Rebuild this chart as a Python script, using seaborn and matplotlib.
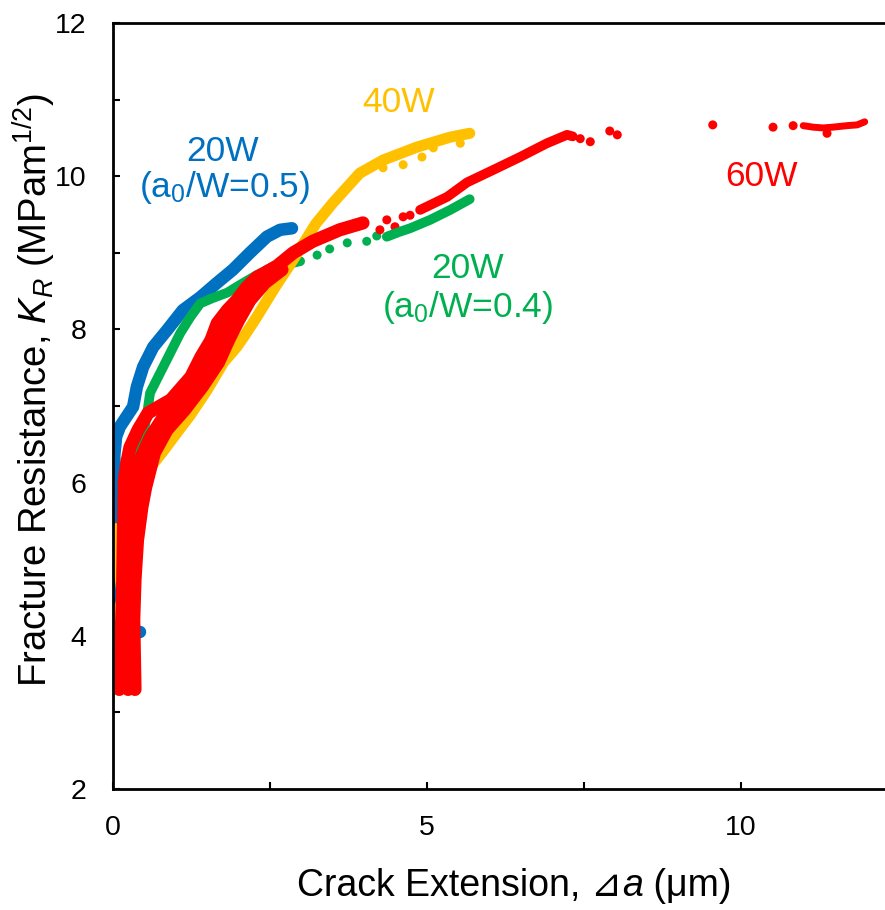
import matplotlib
matplotlib.use('Agg')
import matplotlib.pyplot as plt
import seaborn as sns
import pandas as pd
from matplotlib.ticker import MultipleLocator

# ---------------- data ----------------
# 20W (a0/W=0.5) – blue
blue_x = [0.43, 0.20, 0.04, 0.03, 0.01, 0.02, 0.01, 0.03, 0.02, 0.05, 0.11, 0.32, 0.38,
          0.48, 0.64, 0.86, 1.11, 1.39, 1.66, 1.91, 2.18, 2.45, 2.66, 2.85]
blue_y = [4.05, 4.00, 4.20, 4.60, 5.00, 5.40, 5.80, 6.10, 6.35, 6.60, 6.73, 6.99, 7.25,
          7.51, 7.77, 7.99, 8.25, 8.42, 8.61, 8.78, 9.00, 9.21, 9.30, 9.32]

# 20W (a0/W=0.4) – green
green1_x = [0.15, 0.25, 0.32, 0.45, 0.54, 0.59, 0.75, 0.91, 1.07, 1.23, 1.39, 1.59, 1.82,
            2.02, 2.29, 2.55, 2.98]
green1_y = [4.00, 5.00, 6.03, 6.50, 6.88, 7.17, 7.43, 7.69, 7.95, 8.16, 8.34, 8.41, 8.48,
            8.58, 8.71, 8.81, 8.89]
green_sp_x = [3.25, 3.45, 3.73, 4.04, 4.20]
green_sp_y = [8.97, 9.05, 9.13, 9.15, 9.22]
green2_x = [4.36, 4.55, 4.73, 5.05, 5.37, 5.68]
green2_y = [9.21, 9.27, 9.32, 9.43, 9.56, 9.70]

# 40W – yellow
yellow_x = [0.02, 0.10, 0.03, 0.15, 0.03, 0.20, 0.30, 0.50, 0.78, 0.99, 1.23, 1.50, 1.76,
            1.97, 2.08, 2.28, 2.58, 2.79, 3.04, 3.23, 3.50, 3.93, 4.30, 4.84, 5.37, 5.68]
yellow_y = [3.40, 3.80, 4.10, 4.50, 5.40, 5.20, 5.80, 6.10, 6.39, 6.62, 6.88, 7.21, 7.57,
            7.77, 7.90, 8.15, 8.55, 8.81, 9.13, 9.38, 9.65, 10.04, 10.21, 10.38, 10.51, 10.56]
yellow_sp_x = [4.30, 4.62, 4.92, 5.10, 5.53]
yellow_sp_y = [10.11, 10.15, 10.25, 10.37, 10.43]

# 60W – red : wide band near the origin (left edge / middle / right edge), then single trail
red_left_x = [0.10, 0.15, 0.17, 0.18, 0.22, 0.27, 0.40, 0.56, 0.92, 1.24, 1.40, 1.56, 1.66,
              1.82, 1.97, 2.13, 2.29, 2.58]
red_left_y = [3.30, 4.47, 5.51, 6.03, 6.26, 6.46, 6.69, 6.91, 7.08, 7.38, 7.64, 7.86, 8.08,
              8.25, 8.38, 8.55, 8.68, 8.81]
red_mid_x = [0.24, 0.25, 0.26, 0.27, 0.30, 0.36, 0.46, 0.60, 0.80, 1.05, 1.32, 1.55, 1.72,
             1.86, 2.03, 2.20, 2.45, 2.60, 2.87, 3.18, 3.61, 3.98]
red_mid_y = [3.30, 4.20, 4.80, 5.30, 5.80, 6.10, 6.35, 6.60, 6.85, 7.10, 7.40, 7.65, 7.90,
             8.15, 8.40, 8.60, 8.75, 8.82, 9.00, 9.15, 9.30, 9.39]
red_right_x = [0.35, 0.33, 0.35, 0.39, 0.46, 0.52, 0.66, 0.86, 1.14, 1.42, 1.68, 1.84, 2.00,
               2.18, 2.42, 2.69]
red_right_y = [3.30, 4.21, 4.73, 5.25, 5.68, 5.94, 6.39, 6.69, 6.95, 7.25, 7.57, 7.86, 8.12,
               8.38, 8.61, 8.78]
red_sp1_x = [4.25, 4.36, 4.49, 4.62, 4.73]
red_sp1_y = [9.30, 9.43, 9.34, 9.47, 9.49]
red2_x = [4.89, 5.32, 5.64, 6.05, 6.48, 6.91, 7.23, 7.32]
red2_y = [9.56, 9.73, 9.92, 10.08, 10.25, 10.43, 10.54, 10.52]
red_sp2_x = [7.44, 7.60, 7.91, 8.03, 9.55, 10.51, 10.83, 11.37]
red_sp2_y = [10.49, 10.45, 10.59, 10.54, 10.67, 10.64, 10.66, 10.56]
red3_x = [10.99, 11.15, 11.31, 11.46, 11.69, 11.85, 11.97]
red3_y = [10.66, 10.64, 10.63, 10.64, 10.66, 10.67, 10.71]

BLUE, GREEN, YELLOW, RED = '#0070C0', '#00B050', '#FFC000', '#FF0000'

# ---------------- style ----------------
sns.set_theme(style='white')
plt.rcParams['font.family'] = ['Liberation Sans', 'DejaVu Sans']
plt.rcParams['mathtext.fontset'] = 'custom'
plt.rcParams['mathtext.rm'] = 'Liberation Sans'
plt.rcParams['mathtext.it'] = 'Liberation Sans:italic'

W, H = 885, 910
fig = plt.figure(figsize=(W / 100, H / 100), dpi=100)
x_max = 13.0
ax = fig.add_axes([113 / W, (H - 789) / H, 62.8 * x_max / W, 766 / H])

line_kw = dict(sort=False, estimator=None, ax=ax, legend=False,
               solid_capstyle='round', solid_joinstyle='round')
sc_kw = dict(s=42, edgecolor='none', linewidth=0, ax=ax, legend=False)

# blue
sns.lineplot(x=blue_x, y=blue_y, color=BLUE, linewidth=9, **line_kw)
# green
sns.lineplot(x=green1_x, y=green1_y, color=GREEN, linewidth=7, **line_kw)
sns.scatterplot(x=green_sp_x, y=green_sp_y, color=GREEN, **sc_kw)
sns.lineplot(x=green2_x, y=green2_y, color=GREEN, linewidth=7, **line_kw)
# yellow
sns.lineplot(x=yellow_x, y=yellow_y, color=YELLOW, linewidth=8, **line_kw)
sns.scatterplot(x=yellow_sp_x, y=yellow_sp_y, color=YELLOW, **sc_kw)
# red
red_band = pd.concat([
    pd.DataFrame({'x': red_left_x, 'y': red_left_y, 'strand': 'left'}),
    pd.DataFrame({'x': red_mid_x, 'y': red_mid_y, 'strand': 'mid'}),
    pd.DataFrame({'x': red_right_x, 'y': red_right_y, 'strand': 'right'}),
])
sns.lineplot(data=red_band, x='x', y='y', units='strand', color=RED, linewidth=9.5, **line_kw)
sns.scatterplot(x=red_sp1_x, y=red_sp1_y, color=RED, **sc_kw)
sns.lineplot(x=red2_x, y=red2_y, color=RED, linewidth=7, **line_kw)
sns.scatterplot(x=red_sp2_x, y=red_sp2_y, color=RED, **sc_kw)
sns.lineplot(x=red3_x, y=red3_y, color=RED, linewidth=5, **line_kw)

# ---------------- axes ----------------
ax.set_xlim(0, x_max)
ax.set_ylim(2, 12)
ax.xaxis.set_major_locator(MultipleLocator(5))
ax.xaxis.set_minor_locator(MultipleLocator(2.5))
ax.yaxis.set_major_locator(MultipleLocator(2))
ax.yaxis.set_minor_locator(MultipleLocator(1))
ax.tick_params(which='both', direction='in', length=5, width=1.5, color='black',
               bottom=True, left=True, top=False, right=False)
ax.tick_params(which='major', labelsize=20.5, labelcolor='black', pad=19)
for side in ['left', 'bottom', 'top']:
    ax.spines[side].set_color('black')
    ax.spines[side].set_linewidth(2)
ax.spines['right'].set_visible(False)
ax.grid(False)
ax.set_xlabel('')

# y label
ax.set_ylabel('Fracture Resistance, $K_R$ (MPam$^{\\mathrm{1/2}}$)', fontsize=27.5, color='black')
ax.yaxis.set_label_coords(-0.0968, 0.521)
ax.yaxis.label.set(va='center', ha='center', rotation_mode='default')

# x label (pieces chained so the triangle can come from DejaVu Sans and 'a' is italic)
LFS = 27
t1 = fig.text(0.3, 1 - 886 / H, 'Crack Extension, \u22bf', fontsize=LFS, color='black',
              family=['Liberation Sans', 'DejaVu Sans'], ha='left', va='center')
t2 = fig.text(0, 0, 'a', fontsize=LFS, color='black', style='italic',
              family=['Liberation Sans'], ha='left', va='bottom')
t3 = fig.text(0, 0, ' (\u03bcm)', fontsize=LFS, color='black',
              family=['Liberation Sans', 'DejaVu Sans'], ha='left', va='bottom')
fig.canvas.draw()
r = fig.canvas.get_renderer()
b1 = t1.get_window_extent(r)
w1, w2, w3 = b1.width, t2.get_window_extent(r).width, t3.get_window_extent(r).width
x0 = 514 - (w1 + w2 + w3) / 2
t1.set_x(x0 / W)
t2.set_position(((x0 + w1) / W, b1.y0 / H))
t3.set_position(((x0 + w1 + w2) / W, b1.y0 / H))

# ---------------- annotations ----------------
fs = 25.5
ax.text(1.75, 10.32, '20W', color=BLUE, fontsize=fs, ha='center', va='center')
ax.text(1.77, 9.85, '(a$_{\\mathrm{0}}$/W=0.5)', color=BLUE, fontsize=fs, ha='center', va='center')
ax.text(4.54, 10.96, '40W', color=YELLOW, fontsize=fs, ha='center', va='center')
ax.text(10.33, 10.00, '60W', color=RED, fontsize=fs, ha='center', va='center')
ax.text(5.64, 8.80, '20W', color=GREEN, fontsize=fs, ha='center', va='center')
ax.text(5.64, 8.28, '(a$_{\\mathrm{0}}$/W=0.4)', color=GREEN, fontsize=fs, ha='center', va='center')

fig.savefig('out.png', dpi=100)
